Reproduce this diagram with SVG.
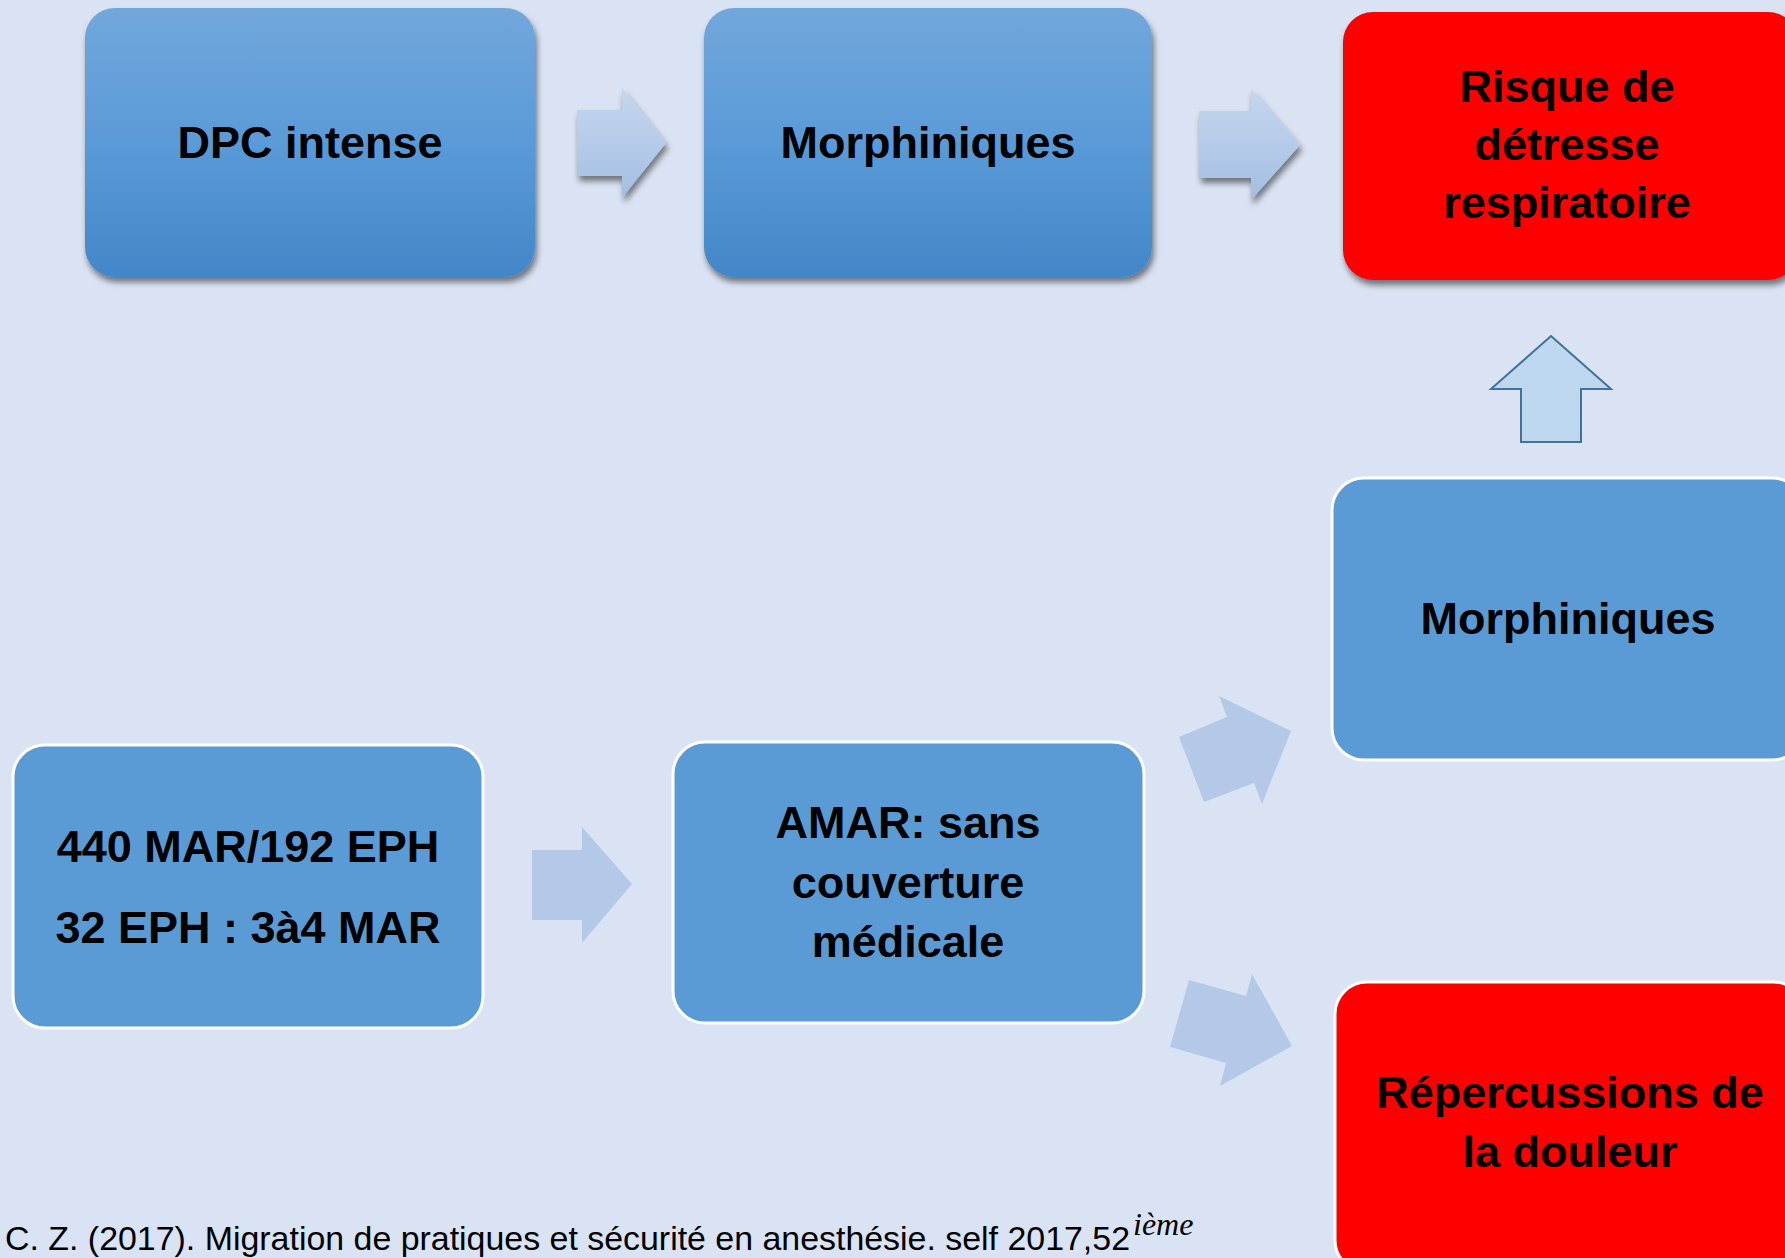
<svg xmlns="http://www.w3.org/2000/svg" width="1785" height="1258" viewBox="0 0 1785 1258">
  <defs>
    <linearGradient id="gBox" x1="0" y1="0" x2="0" y2="1">
      <stop offset="0" stop-color="#72a7db"/>
      <stop offset="0.5" stop-color="#5a9ad8"/>
      <stop offset="1" stop-color="#4287c8"/>
    </linearGradient>
    <linearGradient id="gArrow" x1="0" y1="0" x2="0" y2="1">
      <stop offset="0" stop-color="#c4d6ee"/>
      <stop offset="0.5" stop-color="#b5cbe9"/>
      <stop offset="1" stop-color="#a3bde2"/>
    </linearGradient>
    <filter id="shadow" x="-10%" y="-10%" width="125%" height="130%">
      <feGaussianBlur in="SourceAlpha" stdDeviation="3"/>
      <feOffset dx="2" dy="5" result="b"/>
      <feComponentTransfer><feFuncA type="linear" slope="0.5"/></feComponentTransfer>
      <feMerge><feMergeNode/><feMergeNode in="SourceGraphic"/></feMerge>
    </filter>
  </defs>
  <style>
    .lbl { font-family: "Liberation Sans", Arial, sans-serif; font-weight: bold; font-size: 45px; fill: #000; text-anchor: middle; }
    .flat { fill: #5b9bd5; stroke: #ffffff; stroke-width: 3; }
    .red { fill: #ff0000; }
    .redb { fill: #ff0000; stroke: #ffffff; stroke-width: 3; }
    .grad { fill: url(#gBox); }
    .arrG { fill: url(#gArrow); }
    .arrF { fill: #b4c9e7; }
    .cite { font-family: "Liberation Sans", Arial, sans-serif; font-size: 33px; fill: #000; }
  </style>
  <rect x="0" y="0" width="1785" height="1258" fill="#dae3f3"/>

  <g id="connectors">
    <polygon class="arrG" filter="url(#shadow)" points="577,110 622,110 622,88 666,143 622,198 622,176 577,176"/>
    <polygon class="arrG" filter="url(#shadow)" points="1199,111 1251,111 1251,89 1300,145 1251,200 1251,178 1199,178"/>
    <polygon class="arrF" points="532,850 582,850 582,827 632,884 582,943 582,920 532,920"/>
    <polygon class="arrF" points="1179,737 1227,717 1219,696 1291,731 1262,804 1254,783 1204,802"/>
    <polygon class="arrF" points="1189,980 1246,996 1252,974 1292,1046 1220,1086 1226,1063 1170,1047"/>
    <polygon fill="#bdd7ee" stroke="#41719c" stroke-width="2" points="1551,336 1611,389 1581,389 1581,442 1521,442 1521,389 1491,389"/>
  </g>

  <g id="n-dpc">
    <rect class="grad" filter="url(#shadow)" x="85" y="8" width="450" height="269" rx="30" ry="30"/>
    <text class="lbl" x="310" y="158">DPC intense</text>
  </g>

  <g id="n-morph1">
    <rect class="grad" filter="url(#shadow)" x="704" y="8" width="448" height="269" rx="30" ry="30"/>
    <text class="lbl" x="928" y="158">Morphiniques</text>
  </g>

  <g id="n-risque">
    <rect class="red" filter="url(#shadow)" x="1343" y="12" width="455" height="268" rx="30" ry="30"/>
    <text class="lbl" x="1567" y="102">Risque de</text>
    <text class="lbl" x="1567" y="160">détresse</text>
    <text class="lbl" x="1567" y="218">respiratoire</text>
  </g>

  <g id="n-morph2">
    <rect class="flat" x="1332" y="478" width="472" height="282" rx="32" ry="32"/>
    <text class="lbl" x="1568" y="634">Morphiniques</text>
  </g>

  <g id="n-mar">
    <rect class="flat" x="13" y="745" width="470" height="283" rx="32" ry="32"/>
    <text class="lbl" x="248" y="862">440 MAR/192 EPH</text>
    <text class="lbl" x="248" y="943">32 EPH : 3à4 MAR</text>
  </g>

  <g id="n-amar">
    <rect class="flat" x="673" y="742" width="471" height="281" rx="32" ry="32"/>
    <text class="lbl" x="908" y="838">AMAR: sans</text>
    <text class="lbl" x="908" y="898">couverture</text>
    <text class="lbl" x="908" y="957">médicale</text>
  </g>

  <g id="n-repercussions">
    <rect class="redb" x="1335" y="982" width="470" height="290" rx="32" ry="32"/>
    <text class="lbl" x="1570" y="1108">Répercussions de</text>
    <text class="lbl" x="1570" y="1167">la douleur</text>
  </g>

  <g id="citation">
    <text class="cite" x="5" y="1250" textLength="1125" lengthAdjust="spacingAndGlyphs">C. Z. (2017). Migration de pratiques et sécurité en anesthésie. self 2017,52</text>
    <text x="1133" y="1235" font-family="'Liberation Serif', 'Times New Roman', serif" font-style="italic" font-size="32" fill="#000">ième</text>
  </g>
</svg>
